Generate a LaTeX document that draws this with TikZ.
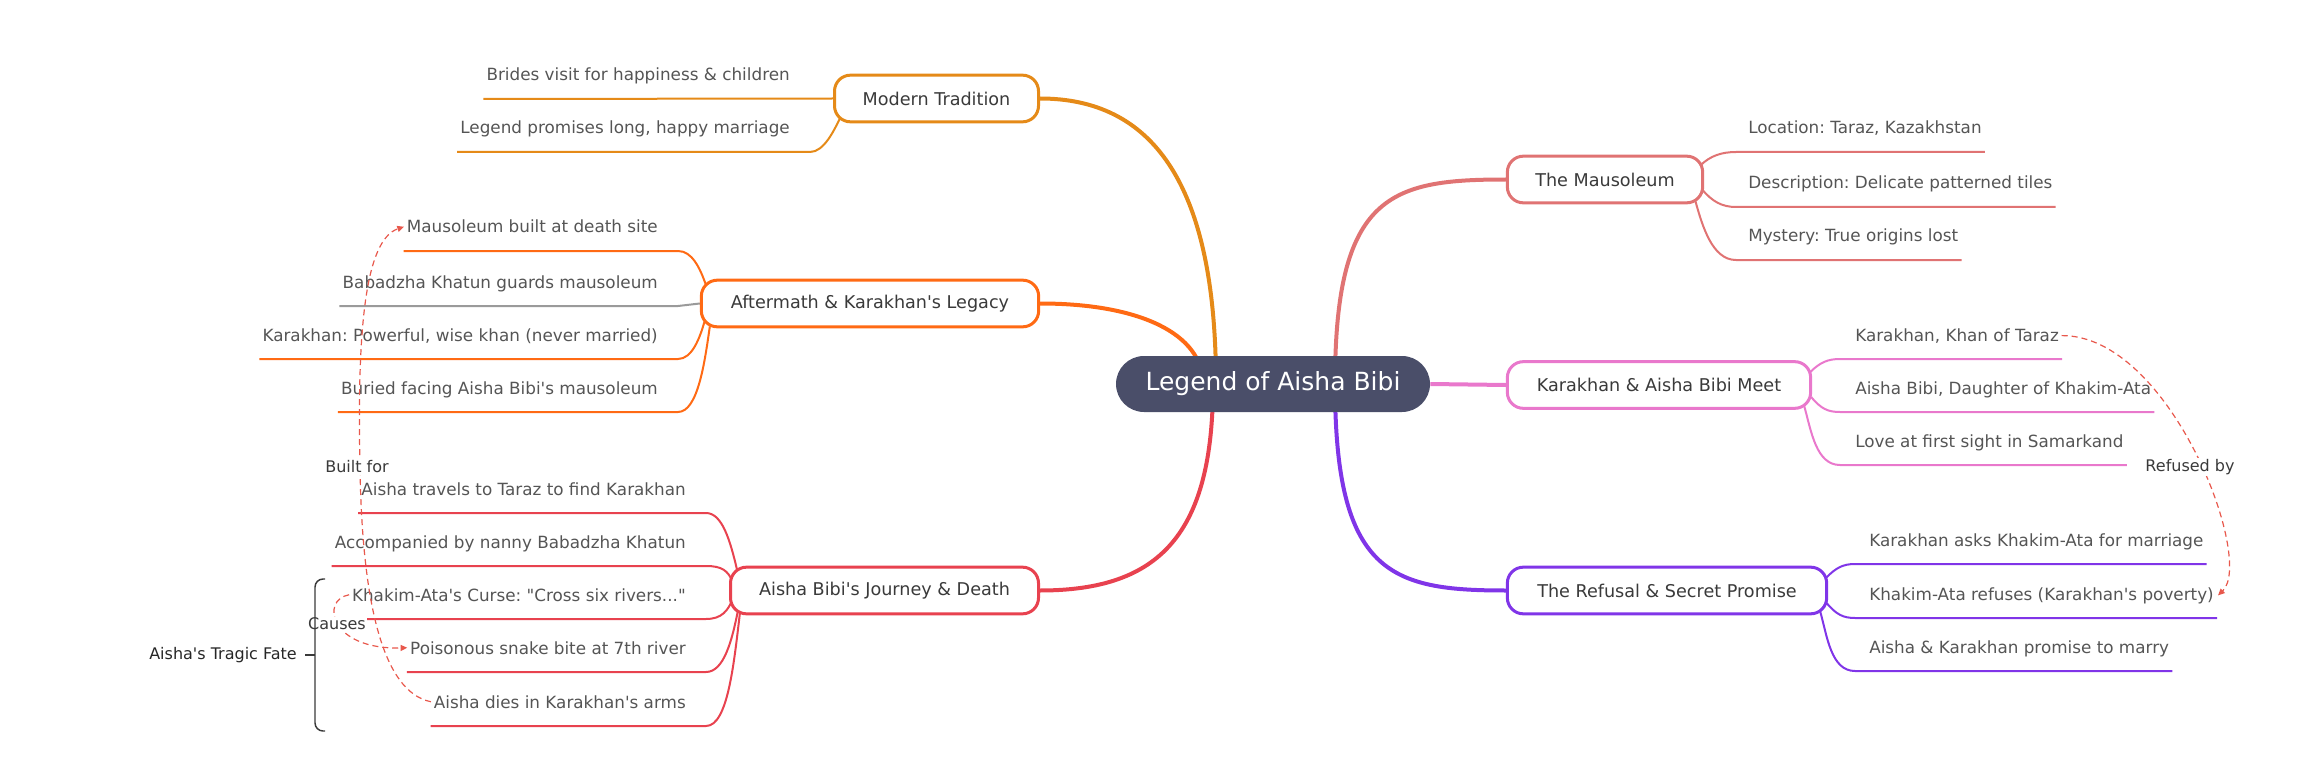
\documentclass[tikz,border=0pt]{standalone}
\usepackage{fontspec}
\setmainfont{DejaVu Sans}[Ligatures=TeXOff]
\usetikzlibrary{arrows.meta,backgrounds}
\definecolor{cOr}{HTML}{E58A18}
\definecolor{cOrR}{HTML}{FF6A14}
\definecolor{cRed}{HTML}{E8424F}
\definecolor{cSal}{HTML}{E07373}
\definecolor{cPink}{HTML}{E978CC}
\definecolor{cPur}{HTML}{8035E8}
\definecolor{cCtr}{HTML}{4A4E69}
\definecolor{cTxt}{HTML}{555555}
\definecolor{cBox}{HTML}{3A3A3A}
\definecolor{cDash}{HTML}{E8584C}
\definecolor{cGray}{HTML}{9A9A9A}
\begin{document}
\frenchspacing
\begin{tikzpicture}[x=0.75pt,y=-0.75pt,
  branch/.style={draw, line width=2.25pt, rounded corners=12pt, fill=white, minimum height=35pt, inner sep=0pt, text=cBox, font=\fontsize{13.2}{15}\selectfont},
  kid/.style={inner sep=0pt, text=cTxt, font=\fontsize{12.6}{15}\selectfont},
  kl/.style={line width=1.5pt},
  mainl/.style={line width=3pt},
  rel/.style={draw=cDash, dash pattern=on 4.5pt off 3pt, line width=0.9pt, -{Triangle[length=5pt,width=4.5pt]}},
  lbl/.style={fill=white, inner sep=1pt, text=cBox, font=\fontsize{12}{14}\selectfont},
]
\useasboundingbox (0,0) rectangle (2317,770);

% center and branches
\node[fill=cCtr, text=white, rounded corners=21pt, minimum width=235.5pt, minimum height=42pt, inner sep=0pt, font=\fontsize{18.75}{22}\selectfont] (ctr) at (1273,384) {Legend of Aisha Bibi};
\node[branch, draw=cOr, minimum width=153pt] (mt) at (936.5,98.5) {Modern Tradition};
\node[branch, draw=cOrR, minimum width=253pt] (af) at (870,303.5) {Aftermath \& Karakhan's Legacy};
\node[branch, draw=cRed, minimum width=231pt] (jd) at (884.5,590.5) {Aisha Bibi's Journey \& Death};
\node[branch, draw=cSal, minimum width=146.5pt] (ms) at (1605,179.5) {The Mausoleum};
\node[branch, draw=cPink, minimum width=227.5pt] (km) at (1659,385) {Karakhan \& Aisha Bibi Meet};
\node[branch, draw=cPur, minimum width=239.5pt] (rf) at (1667,590.5) {The Refusal \& Secret Promise};

% left children
\node[kid, anchor=base east] (m1) at (790,81) {Brides visit for happiness \& children};
\node[kid, anchor=base east] (m2) at (790,134) {Legend promises long, happy marriage};
\node[kid, anchor=base east] (a1) at (658,233) {Mausoleum built at death site};
\node[kid, anchor=base east] (a2) at (658,288) {Babadzha Khatun guards mausoleum};
\node[kid, anchor=base east] (a3) at (658,341) {Karakhan: Powerful, wise khan (never married)};
\node[kid, anchor=base east] (a4) at (658,394) {Buried facing Aisha Bibi's mausoleum};
\node[kid, anchor=base east] (j1) at (686,495) {Aisha travels to Taraz to find Karakhan};
\node[kid, anchor=base east] (j2) at (686,548) {Accompanied by nanny Babadzha Khatun};
\node[kid, anchor=base east] (j3) at (686,601) {Khakim-Ata's Curse: "Cross six rivers..."};
\node[kid, anchor=base east] (j4) at (686,654) {Poisonous snake bite at 7th river};
\node[kid, anchor=base east] (j5) at (686,708) {Aisha dies in Karakhan's arms};
% right children
\node[kid, anchor=base west] (s1) at (1748,134) {Location: Taraz, Kazakhstan};
\node[kid, anchor=base west] (s2) at (1748,189) {Description: Delicate patterned tiles};
\node[kid, anchor=base west] (s3) at (1748,242) {Mystery: True origins lost};
\node[kid, anchor=base west] (k1) at (1855,341) {Karakhan, Khan of Taraz};
\node[kid, anchor=base west] (k2) at (1855,394) {Aisha Bibi, Daughter of Khakim-Ata};
\node[kid, anchor=base west] (k3) at (1855,447) {Love at first sight in Samarkand};
\node[kid, anchor=base west] (r1) at (1869,546) {Karakhan asks Khakim-Ata for marriage};
\node[kid, anchor=base west] (r2) at (1869,600) {Khakim-Ata refuses (Karakhan's poverty)};
\node[kid, anchor=base west] (r3) at (1869,653) {Aisha \& Karakhan promise to marry};

\begin{scope}[on background layer]
% main connectors
\draw[mainl, cOr] (mt.east) .. controls +(110,0) and +(0,-204) .. ([shift={(-57,0)}]ctr.center);
\draw[mainl, cOrR] (af.east) .. controls +(100,0) and +(0,-50) .. ([shift={(-70,0)}]ctr.center);
\draw[mainl, cRed] (jd.east) .. controls +(120,0) and +(0,150) .. ([shift={(-60,0)}]ctr.center);
\draw[mainl, cSal] (ms.west) .. controls +(-115,0) and +(0,-190) .. ([shift={(62,0)}]ctr.center);
\draw[mainl, cPink] (ctr.east) -- (km.west);
\draw[mainl, cPur] (rf.west) .. controls +(-115,0) and +(0,190) .. ([shift={(62,0)}]ctr.center);

% left child connectors
\draw[kl, cOr] ([shift={(-3,18)}]m1.base west) -- (mt.west);
\draw[kl, cOr] ([shift={(-3,18)}]m2.base west) -- ([shift={(20,18)}]m2.base east) .. controls +(14,0) and +(-6,12) .. ([shift={(7,-5)}]mt.south west);
\draw[kl, cOrR] ([shift={(-3,18)}]a1.base west) -- ([shift={(20,18)}]a1.base east) .. controls +(14,0) and +(-6,-17) .. ([shift={(6,6)}]af.north west);
\draw[kl, cGray] ([shift={(-3,18)}]a2.base west) -- ([shift={(20,18)}]a2.base east) -- (af.west);
\draw[kl, cOrR] ([shift={(-3,18)}]a3.base west) -- ([shift={(20,18)}]a3.base east) .. controls +(14,0) and +(-5,18) .. ([shift={(5,-8)}]af.south west);
\draw[kl, cOrR] ([shift={(-3,18)}]a4.base west) -- ([shift={(20,18)}]a4.base east) .. controls +(20,0) and +(-5,35) .. ([shift={(10,-2)}]af.south west);
\draw[kl, cRed] ([shift={(-3,18)}]j1.base west) -- ([shift={(20,18)}]j1.base east) .. controls +(16,0) and +(-7,-30) .. ([shift={(8,4)}]jd.north west);
\draw[kl, cRed] ([shift={(-3,18)}]j2.base west) -- ([shift={(20,18)}]j2.base east) .. controls +(16,0) and +(-5,-12) .. ([shift={(4,-8)}]jd.west);
\draw[kl, cRed] ([shift={(-3,18)}]j3.base west) -- ([shift={(20,18)}]j3.base east) .. controls +(16,0) and +(-5,12) .. ([shift={(4,8)}]jd.west);
\draw[kl, cRed] ([shift={(-3,18)}]j4.base west) -- ([shift={(20,18)}]j4.base east) .. controls +(18,0) and +(-6,30) .. ([shift={(9,-5)}]jd.south west);
\draw[kl, cRed] ([shift={(-3,18)}]j5.base west) -- ([shift={(20,18)}]j5.base east) .. controls +(22,0) and +(-6,50) .. ([shift={(11,-3)}]jd.south west);

% right child connectors
\draw[kl, cSal] ([shift={(-4,11)}]ms.north east) .. controls +(10,-10) and +(-14,0) .. ([shift={(-12,18)}]s1.base west) -- ([shift={(3,18)}]s1.base east);
\draw[kl, cSal] ([shift={(-2,10)}]ms.east) .. controls +(10,12) and +(-14,0) .. ([shift={(-12,18)}]s2.base west) -- ([shift={(3,18)}]s2.base east);
\draw[kl, cSal] ([shift={(-9,-4)}]ms.south east) .. controls +(7,25) and +(-24,0) .. ([shift={(-12,18)}]s3.base west) -- ([shift={(3,18)}]s3.base east);
\draw[kl, cPink] ([shift={(-2,12)}]km.north east) .. controls +(10,-10) and +(-12,0) .. ([shift={(-15,18)}]k1.base west) -- ([shift={(3,18)}]k1.base east);
\draw[kl, cPink] ([shift={(-1,12)}]km.east) .. controls +(10,12) and +(-12,0) .. ([shift={(-15,18)}]k2.base west) -- ([shift={(3,18)}]k2.base east);
\draw[kl, cPink] ([shift={(-8,-4)}]km.south east) .. controls +(7,25) and +(-24,0) .. ([shift={(-15,18)}]k3.base west) -- ([shift={(3,18)}]k3.base east);
\draw[kl, cPur] ([shift={(-2,12)}]rf.north east) .. controls +(10,-10) and +(-12,0) .. ([shift={(-14,18)}]r1.base west) -- ([shift={(3,18)}]r1.base east);
\draw[kl, cPur] ([shift={(-2,12)}]rf.east) .. controls +(10,12) and +(-12,0) .. ([shift={(-14,18)}]r2.base west) -- ([shift={(3,18)}]r2.base east);
\draw[kl, cPur] ([shift={(-8,-4)}]rf.south east) .. controls +(7,25) and +(-24,0) .. ([shift={(-14,18)}]r3.base west) -- ([shift={(3,18)}]r3.base east);
\end{scope}

% cross links
\draw[rel] ([xshift=2pt]k1.east) .. controls (2170,335) and (2255,560) .. ([xshift=3pt]r2.east);
\draw[rel] ([xshift=-2pt]j5.west) .. controls (382,692) and (362,600) .. (360,467) .. controls (357,330) and (365,240) .. ([xshift=-2pt]a1.west);
\draw[rel] ([xshift=-2pt]j3.west) .. controls (320,600) and (330,650) .. ([xshift=-2pt]j4.west);
\node[lbl] (lref) at (2190,467) {Refused by};
\node[lbl] (lbuilt) at (357,467) {Built for};
\node[lbl] (lcause) at (337,624) {Causes};

% brace
\draw[line width=1.1pt, cBox, rounded corners=6pt] (325,579) -- (315,579) -- (315,731) -- (325,731);
\draw[line width=1.1pt, cBox] (315,655) -- (305,655);
\node[anchor=east, inner sep=0pt, text=black!85, font=\fontsize{12}{14}\selectfont] (fate) at (297,655) {Aisha's Tragic Fate};
\end{tikzpicture}
\end{document}
